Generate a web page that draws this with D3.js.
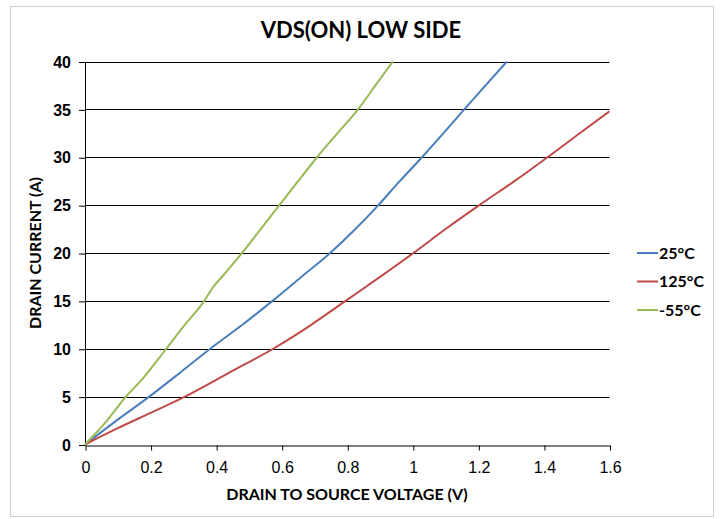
<!DOCTYPE html>
<html lang="en">
<head>
<meta charset="UTF-8">
<title>VDS(ON) LOW SIDE</title>
<script src="https://cdn.jsdelivr.net/npm/d3@7"></script>
<style>
    body {
        margin: 0;
        background: white;
    }
    svg {
        font-family: Lato, "Open Sans", sans-serif;
    }
    .grid line {
        stroke: #000;
        stroke-width: 1;
    }
    .axis path, .axis line {
        stroke: #000;
    }
</style>
</head>
<body>
<svg id="chart" width="720" height="519"></svg>

<script>
// voltage (V) / current (A) points
const v25 = [0, 0.1, 0.196, 0.29, 0.382, 0.48, 0.572, 0.66, 0.748, 0.825, 0.895, 0.96, 1.028, 1.093, 1.157, 1.222, 1.287];
const i25 = [0, 2.6, 5, 7.5, 10, 12.5, 15, 17.5, 20, 22.5, 25, 27.5, 30, 32.5, 35, 37.5, 40];

const v125 = [0, 0.1, 0.2, 0.305, 0.44, 0.574, 0.69, 0.795, 0.9, 1.002, 1.1, 1.203, 1.31, 1.411, 1.505, 1.6];
const i125 = [0, 1.7, 3.3, 5, 7.5, 10, 12.5, 15, 17.5, 20, 22.5, 25, 27.5, 30, 32.4, 34.8];

const vm55 = [0, 0.06, 0.125, 0.174, 0.248, 0.3, 0.364, 0.39, 0.42, 0.479, 0.536, 0.593, 0.65, 0.708, 0.77, 0.833, 0.886, 0.939];
const im55 = [0, 2.2, 5, 6.8, 10, 12.3, 15, 16.4, 17.6, 20, 22.5, 25, 27.5, 30, 32.5, 35, 37.5, 40];

const seriesNames = ["25°C", "125°C", "-55°C"];
const seriesColors = ["#4a7ebb", "#be4b48", "#98b954"];

const xTicks = [0, 0.2, 0.4, 0.6, 0.8, 1, 1.2, 1.4, 1.6];
const xTickLabels = ["0", "0.2", "0.4", "0.6", "0.8", "1", "1.2", "1.4", "1.6"];
const yTicks = [0, 5, 10, 15, 20, 25, 30, 35, 40];

const series = [
    {name: seriesNames[0], color: seriesColors[0], pts: d3.zip(v25, i25)},
    {name: seriesNames[1], color: seriesColors[1], pts: d3.zip(v125, i125)},
    {name: seriesNames[2], color: seriesColors[2], pts: d3.zip(vm55, im55)}
];

const svg = d3.select("#chart");

// outer chart border
svg.append("rect")
    .attr("x", 10.5).attr("y", 6.5)
    .attr("width", 703).attr("height", 510)
    .attr("fill", "white")
    .attr("stroke", "#d0d0d0");

const x = d3.scaleLinear().domain([0, 1.6]).range([85, 609.5]);
const y = d3.scaleLinear().domain([0, 40]).range([444.5, 61.5]);

// horizontal gridlines
svg.append("g")
    .attr("class", "grid")
    .selectAll("line")
    .data(yTicks.slice(1))
    .join("line")
    .attr("x1", x(0)).attr("x2", x(1.6))
    .attr("y1", d => Math.round(y(d)) + 0.5)
    .attr("y2", d => Math.round(y(d)) + 0.5);

// y axis
const yAxis = svg.append("g")
    .attr("class", "axis")
    .attr("transform", `translate(${x(0)},0.5)`)
    .call(d3.axisLeft(y).tickValues(yTicks).tickSize(6).tickPadding(8).tickSizeOuter(0));
yAxis.selectAll("text")
    .attr("font-size", 16)
    .attr("font-weight", "bold")
    .attr("fill", "#000");

// x axis
const xAxis = svg.append("g")
    .attr("class", "axis")
    .attr("transform", `translate(0.5,${Math.round(y(0)) + 0.5})`)
    .call(d3.axisBottom(x).tickValues(xTicks).tickFormat((d, i) => xTickLabels[i]).tickSize(5).tickPadding(11).tickSizeOuter(0));
xAxis.selectAll("text")
    .attr("font-size", 16)
    .attr("fill", "#000");

// curves
const line = d3.line()
    .x(d => x(d[0]))
    .y(d => y(d[1]))
    .curve(d3.curveMonotoneX);

svg.append("g")
    .selectAll("path")
    .data(series)
    .join("path")
    .attr("fill", "none")
    .attr("stroke", d => d.color)
    .attr("stroke-width", 2)
    .attr("d", d => line(d.pts));

// title
svg.append("text")
    .attr("x", 361).attr("y", 38)
    .attr("text-anchor", "middle")
    .attr("font-size", 22)
    .attr("font-weight", "bold")
    .text("VDS(ON) LOW SIDE");

// axis titles
svg.append("text")
    .attr("x", 347).attr("y", 500)
    .attr("text-anchor", "middle")
    .attr("font-size", 16)
    .attr("font-weight", "bold")
    .text("DRAIN TO SOURCE VOLTAGE (V)");

svg.append("text")
    .attr("transform", "translate(41,253) rotate(-90)")
    .attr("text-anchor", "middle")
    .attr("font-size", 16)
    .attr("font-weight", "bold")
    .text("DRAIN CURRENT (A)");

// legend
const legend = svg.append("g")
    .selectAll("g")
    .data(series)
    .join("g")
    .attr("transform", (d, i) => `translate(637,${253 + i * 28.5})`);
legend.append("line")
    .attr("x1", 0).attr("x2", 21)
    .attr("stroke", d => d.color)
    .attr("stroke-width", 2);
legend.append("text")
    .attr("x", 22).attr("dy", "0.36em")
    .attr("font-size", 16)
    .attr("font-weight", "bold")
    .text(d => d.name);
</script>
</body>
</html>
